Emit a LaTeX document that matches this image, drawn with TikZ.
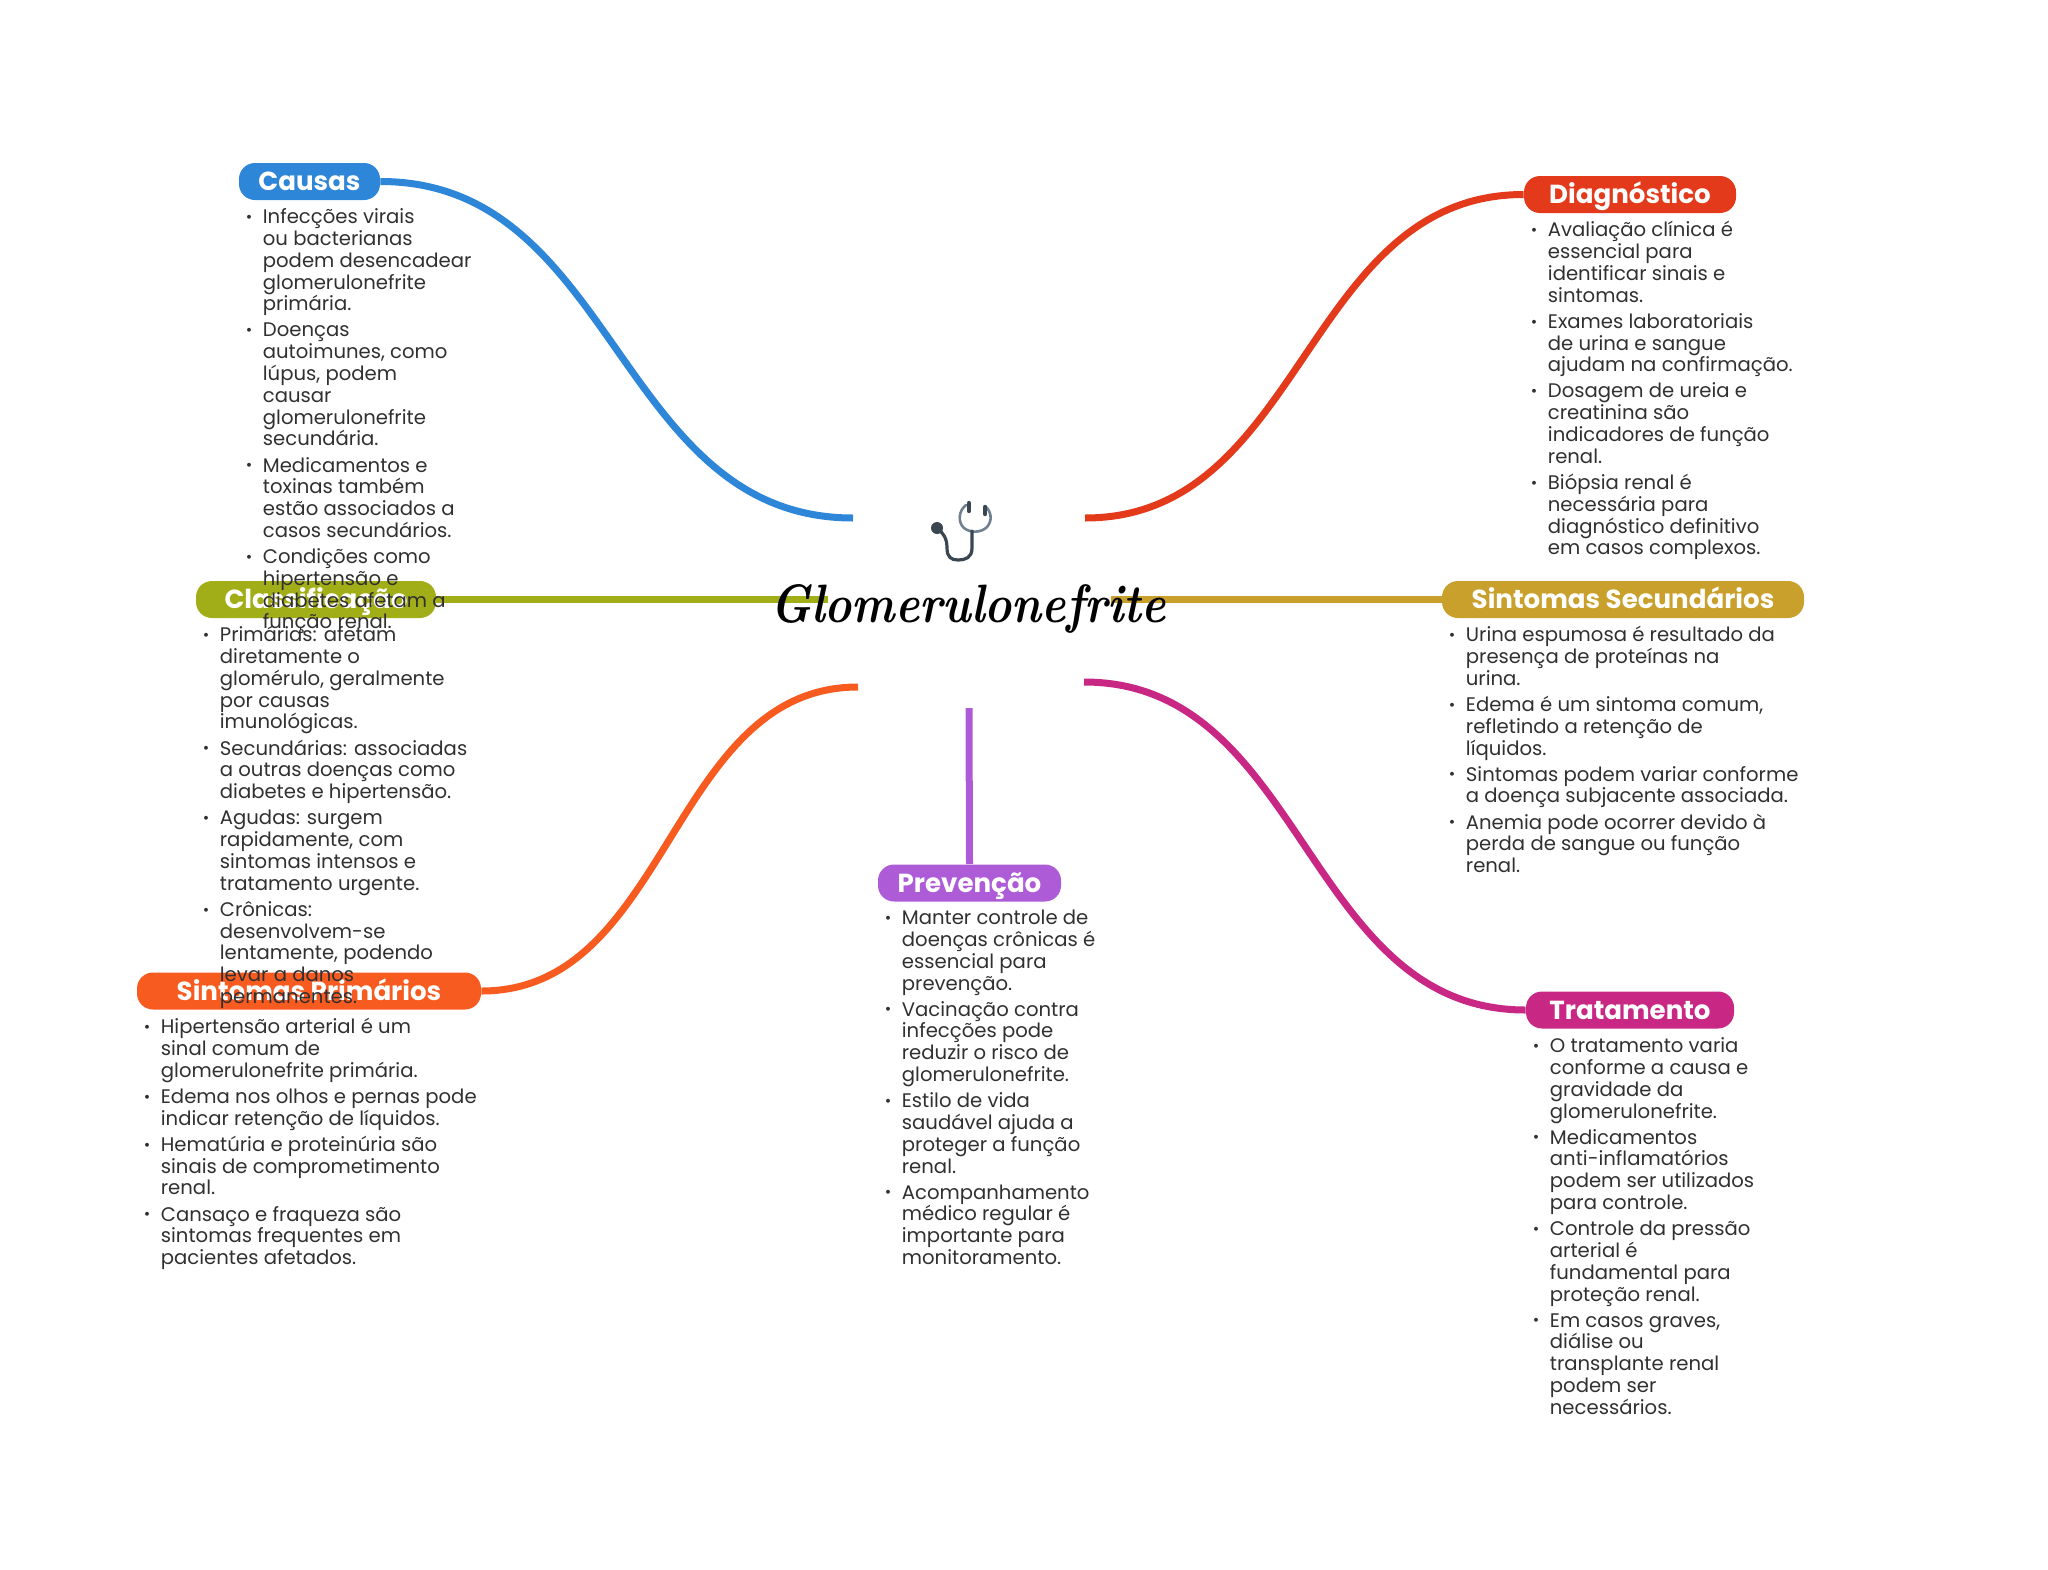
\documentclass[tikz,border=0pt]{standalone}
\usepackage{fontspec}
\setmainfont{Poppins}
\newfontfamily\titlefont{Latin Modern Roman}
\usetikzlibrary{calc}
\setlength{\lineskiplimit}{-20pt}
\definecolor{cCausas}{HTML}{2E86D8}
\definecolor{cDiag}{HTML}{E43A1C}
\definecolor{cClass}{HTML}{A2AE17}
\definecolor{cSec}{HTML}{C9A02C}
\definecolor{cPrim}{HTML}{F85B1F}
\definecolor{cTrat}{HTML}{C82784}
\definecolor{cPrev}{HTML}{AE5BD8}
\definecolor{cText}{HTML}{303030}
\definecolor{cSteth}{HTML}{3A4650}
\definecolor{cLoop}{HTML}{6F8090}
\newcommand\bl{\makebox[11.75pt][l]{\hspace{3.2pt}\smash{\raisebox{.6pt}{\scalebox{.8}{•}}}}\strut}
\newcommand\ind{\makebox[11.75pt]{}}
\newcommand\nx{\\[2.15pt]\bl}
\tikzset{
  x=0.5pt,y=-0.5pt,
  pill/.style={fill=#1,rounded corners=8pt,inner sep=0pt,text=white,
    font=\fontsize{13.05}{15}\selectfont\bfseries,minimum height=18.5pt,text height=9pt,text depth=0pt},
  link/.style={line width=3.5pt,line cap=butt},
  blist/.style={anchor=north west,inner sep=0pt,align=left,text=cText,
    font=\fontsize{9.82}{10.9}\selectfont}
}
\begin{document}
\begin{tikzpicture}
\useasboundingbox (0,0) rectangle (2048,1569);
% central coordinates
\coordinate (eCausas) at (853,518);
\coordinate (eDiag) at (1085,518);
\coordinate (eClass) at (828,599.5);
\coordinate (eSec) at (1111,599.5);
\coordinate (ePrim) at (858,687);
\coordinate (eTrat) at (1084,682);
\coordinate (ePrev) at (969,708);
% pills
\node[pill=cCausas,minimum width=70.5pt] (causas) at (309.5,181.5) {Causas};
\node[pill=cDiag,minimum width=106pt] (diag) at (1630,194.5) {Diagnóstico};
\node[pill=cClass,minimum width=120pt] (class) at (316,599.5) {Classificação};
\node[pill=cSec,minimum width=181pt] (sec) at (1623,599.5) {Sintomas Secundários};
\node[pill=cPrim,minimum width=172pt] (prim) at (309,991) {Sintomas Primários};
\node[pill=cPrev,minimum width=91.5pt] (prev) at (969.5,883) {Prevenção};
\node[pill=cTrat,minimum width=104pt] (trat) at (1630,1010) {Tratamento};
% connectors
\draw[link,cCausas] (causas.east) .. controls ($(causas.east)!.5!(eCausas|-causas.east)$) and ($(causas.east|-eCausas)!.5!(eCausas)$) .. (eCausas);
\draw[link,cDiag] (diag.west) .. controls ($(diag.west)!.5!(eDiag|-diag.west)$) and ($(diag.west|-eDiag)!.5!(eDiag)$) .. (eDiag);
\draw[link,cClass] (class.east) -- (eClass);
\draw[link,cSec] (sec.west) -- (eSec);
\draw[link,cPrim] (prim.east) .. controls ($(prim.east)!.5!(ePrim|-prim.east)$) and ($(prim.east|-ePrim)!.5!(ePrim)$) .. (ePrim);
\draw[link,cTrat] (trat.west) .. controls ($(trat.west)!.5!(eTrat|-trat.west)$) and ($(trat.west|-eTrat)!.5!(eTrat)$) .. (eTrat);
\draw[link,cPrev] (prev.north) -- (ePrev);
% lists
\node[blist] (lCausas) at (239,208) {\bl Infecções virais\\\ind ou bacterianas\\\ind podem desencadear\\\ind glomerulonefrite\\\ind primária.\nx Doenças\\\ind autoimunes, como\\\ind lúpus, podem\\\ind causar\\\ind glomerulonefrite\\\ind secundária.\nx Medicamentos e\\\ind toxinas também\\\ind estão associados a\\\ind casos secundários.\nx Condições como\\\ind hipertensão e\\\ind diabetes afetam a\\\ind função renal.};
\node[blist] (lClass) at (196,626) {\bl Primárias: afetam\\\ind diretamente o\\\ind glomérulo, geralmente\\\ind por causas\\\ind imunológicas.\nx Secundárias: associadas\\\ind a outras doenças como\\\ind diabetes e hipertensão.\nx Agudas: surgem\\\ind rapidamente, com\\\ind sintomas intensos e\\\ind tratamento urgente.\nx Crônicas:\\\ind desenvolvem-se\\\ind lentamente, podendo\\\ind levar a danos\\\ind permanentes.};
\node[blist] (lPrim) at (137,1018) {\bl Hipertensão arterial é um\\\ind sinal comum de\\\ind glomerulonefrite primária.\nx Edema nos olhos e pernas pode\\\ind indicar retenção de líquidos.\nx Hematúria e proteinúria são\\\ind sinais de comprometimento\\\ind renal.\nx Cansaço e fraqueza são\\\ind sintomas frequentes em\\\ind pacientes afetados.};
\node[blist] (lDiag) at (1524,221) {\bl Avaliação clínica é\\\ind essencial para\\\ind identificar sinais e\\\ind sintomas.\nx Exames laboratoriais\\\ind de urina e sangue\\\ind ajudam na confirmação.\nx Dosagem de ureia e\\\ind creatinina são\\\ind indicadores de função\\\ind renal.\nx Biópsia renal é\\\ind necessária para\\\ind diagnóstico definitivo\\\ind em casos complexos.};
\node[blist] (lSec) at (1442,626) {\bl Urina espumosa é resultado da\\\ind presença de proteínas na\\\ind urina.\nx Edema é um sintoma comum,\\\ind refletindo a retenção de\\\ind líquidos.\nx Sintomas podem variar conforme\\\ind a doença subjacente associada.\nx Anemia pode ocorrer devido à\\\ind perda de sangue ou função\\\ind renal.};
\node[blist] (lPrev) at (878,909) {\bl Manter controle de\\\ind doenças crônicas é\\\ind essencial para\\\ind prevenção.\nx Vacinação contra\\\ind infecções pode\\\ind reduzir o risco de\\\ind glomerulonefrite.\nx Estilo de vida\\\ind saudável ajuda a\\\ind proteger a função\\\ind renal.\nx Acompanhamento\\\ind médico regular é\\\ind importante para\\\ind monitoramento.};
\node[blist] (lTrat) at (1526,1037) {\bl O tratamento varia\\\ind conforme a causa e\\\ind gravidade da\\\ind glomerulonefrite.\nx Medicamentos\\\ind anti-inflamatórios\\\ind podem ser utilizados\\\ind para controle.\nx Controle da pressão\\\ind arterial é\\\ind fundamental para\\\ind proteção renal.\nx Em casos graves,\\\ind diálise ou\\\ind transplante renal\\\ind podem ser\\\ind necessários.};
% title
\node[anchor=base,inner sep=0pt,font=\titlefont\fontsize{27}{32}\selectfont\bfseries\itshape] (title) at (968,622) {\scalebox{.85}[1]{Glomerulonefrite}};
% stethoscope
\draw[line width=1.3pt,color=cLoop,line cap=round] (966,505) .. controls (958,511) and (958,523) .. (964,528) .. controls (970,533) and (981,533) .. (987,527) .. controls (993,520) and (991,511) .. (985,506);
\draw[line width=1.6pt,color=cSteth,line cap=round] (972,531) -- (972,548) .. controls (972,558) and (965,560) .. (958,560) .. controls (951,560) and (947,557) .. (947,548) .. controls (947,538) and (943,533) .. (938,529);
\fill[cSteth] (937,528) circle (6);
\draw[line width=2.2pt,color=cSteth,line cap=round] (969,503) -- (969,511);
\draw[line width=2.2pt,color=cSteth,line cap=round] (985,507) -- (985,514);
\end{tikzpicture}
\end{document}
